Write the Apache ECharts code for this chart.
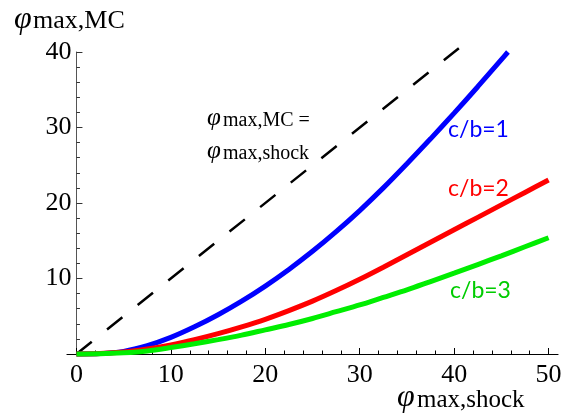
<!DOCTYPE html>
<html>
<head>
<meta charset="utf-8">
<script src="https://cdn.jsdelivr.net/npm/echarts@6/dist/echarts.min.js"></script>
<style>
html,body{margin:0;padding:0;background:#fff;}
#c{width:576px;height:416px;}
</style>
</head>
<body>
<div id="c"></div>
<script>
// ---- data ----
const xTickLabels = [0, 10, 20, 30, 40, 50];
const yTickLabels = [10, 20, 30, 40];

const blueX = [0, 2.5, 5, 7.5, 10, 12.5, 15, 17.5, 20, 22.5, 25, 27.5, 30, 32.5, 35, 37.5, 40, 42.5, 45, 45.7];
const blueY = [0, 0.05, 0.35, 1.1, 2.2, 3.6, 5.2, 7.0, 9.0, 11.2, 13.6, 16.2, 19.0, 22.0, 25.2, 28.5, 31.9, 35.4, 39.0, 40.0];

const redX = [0, 2.5, 5, 7.5, 10, 12.5, 15, 17.5, 20, 22.5, 25, 27.5, 30, 32.5, 35, 37.5, 40, 42.5, 45, 47.5, 50];
const redY = [0, 0.05, 0.25, 0.65, 1.2, 1.9, 2.7, 3.6, 4.6, 5.75, 7.0, 8.4, 9.9, 11.5, 13.15, 14.8, 16.45, 18.1, 19.75, 21.4, 23.05];

const greenX = [0, 2.5, 5, 7.5, 10, 12.5, 15, 17.5, 20, 22.5, 25, 27.5, 30, 32.5, 35, 37.5, 40, 42.5, 45, 47.5, 50];
const greenY = [0, 0.02, 0.15, 0.4, 0.85, 1.35, 1.9, 2.5, 3.2, 3.9, 4.7, 5.6, 6.5, 7.5, 8.5, 9.6, 10.7, 11.85, 13.0, 14.2, 15.4];

const diagX = [0, 40.5];
const diagY = [0, 40.5];

const curveLabels = ['c/b=1', 'c/b=2', 'c/b=3'];

function pairs(xs, ys) { return xs.map((x, i) => [x, ys[i]]); }

const serif = '"Liberation Serif", "DejaVu Serif", serif';
const sans = 'Lato, "Open Sans", sans-serif';

// plot geometry: axis line spans x in [-1, 51]
const G = { left: 67, right: 18, top: 52, bottom: 62 };
const pxPerX = (576 - G.left - G.right) / 52;

const chart = echarts.init(document.getElementById('c'), null, {renderer: 'canvas'});
const option = {
  backgroundColor: '#ffffff',
  animation: false,
  grid: [
    { left: G.left, right: G.right, top: G.top, bottom: G.bottom, containLabel: false },
    { left: G.left + pxPerX, right: G.right + pxPerX, top: G.top, bottom: G.bottom, containLabel: false }
  ],
  xAxis: [
    {
      gridIndex: 0, type: 'value', min: -1, max: 51,
      axisLine: { show: true, onZero: false, lineStyle: { color: '#000', width: 1.2 } },
      axisTick: { show: false },
      axisLabel: { show: false },
      splitLine: { show: false }
    },
    {
      gridIndex: 1, type: 'value', min: 0, max: 50, interval: 10,
      axisLine: { show: false, onZero: false },
      axisTick: { show: true, inside: true, length: 6, lineStyle: { color: '#000', width: 1 } },
      minorTick: { show: true, splitNumber: 5, length: 3.5, lineStyle: { color: '#000', width: 1 } },
      axisLabel: { show: true, margin: 8, color: '#000', fontFamily: serif, fontSize: 26,
        customValues: xTickLabels },
      splitLine: { show: false }
    }
  ],
  yAxis: [
    {
      gridIndex: 0, type: 'value', min: 0, max: 40, show: false
    },
    {
      gridIndex: 1, type: 'value', min: 0, max: 40, interval: 10,
      axisLine: { show: true, onZero: false, lineStyle: { color: '#555', width: 1 } },
      axisTick: { show: true, inside: true, length: 6, lineStyle: { color: '#333', width: 1 } },
      minorTick: { show: true, splitNumber: 5, length: 3.5, lineStyle: { color: '#333', width: 1 } },
      axisLabel: { show: true, margin: 5, color: '#000', fontFamily: serif, fontSize: 26,
        customValues: yTickLabels },
      splitLine: { show: false }
    }
  ],
  series: [
    { type: 'line', xAxisIndex: 1, yAxisIndex: 1, data: pairs(diagX, diagY), showSymbol: false, clip: false,
      lineStyle: { color: '#000', width: 2.5, type: [19.6, 19.6] } },
    { type: 'line', xAxisIndex: 1, yAxisIndex: 1, data: pairs(blueX, blueY), showSymbol: false, smooth: 0.3, clip: false,
      lineStyle: { color: '#0000ff', width: 5 } },
    { type: 'line', xAxisIndex: 1, yAxisIndex: 1, data: pairs(redX, redY), showSymbol: false, smooth: 0.3, clip: false,
      lineStyle: { color: '#ff0000', width: 5 } },
    { type: 'line', xAxisIndex: 1, yAxisIndex: 1, data: pairs(greenX, greenY), showSymbol: false, smooth: 0.3, clip: false,
      lineStyle: { color: '#00ee00', width: 5 } }
  ],
  graphic: [
    // y-axis title
    { type: 'text', left: 14, top: 4, style: { text: 'φ', font: 'italic 32px ' + serif, fill: '#000' } },
    { type: 'text', left: 33, top: 8, style: { text: 'max,MC', font: '26px ' + serif, fill: '#000' } },
    // x-axis title
    { type: 'text', left: 397, top: 382, style: { text: 'φ', font: 'italic 32px ' + serif, fill: '#000' } },
    { type: 'text', left: 417, top: 388, style: { text: 'max,shock', font: '25px ' + serif, fill: '#000' } },
    // annotation
    { type: 'text', left: 207, top: 106, style: { text: 'φ', font: 'italic 25px ' + serif, fill: '#000' } },
    { type: 'text', left: 223, top: 111, style: { text: 'max,MC =', font: '20px ' + serif, fill: '#000' } },
    { type: 'text', left: 207, top: 139, style: { text: 'φ', font: 'italic 25px ' + serif, fill: '#000' } },
    { type: 'text', left: 223, top: 144, style: { text: 'max,shock', font: '20px ' + serif, fill: '#000' } },
    // curve labels
    { type: 'text', left: 448, top: 118, style: { text: curveLabels[0], font: '23px ' + sans, fill: '#0000ff' } },
    { type: 'text', left: 448, top: 177, style: { text: curveLabels[1], font: '23px ' + sans, fill: '#ff0000' } },
    { type: 'text', left: 450, top: 279, style: { text: curveLabels[2], font: '23px ' + sans, fill: '#00cc00' } }
  ]
};
chart.setOption(option);
</script>
</body>
</html>
